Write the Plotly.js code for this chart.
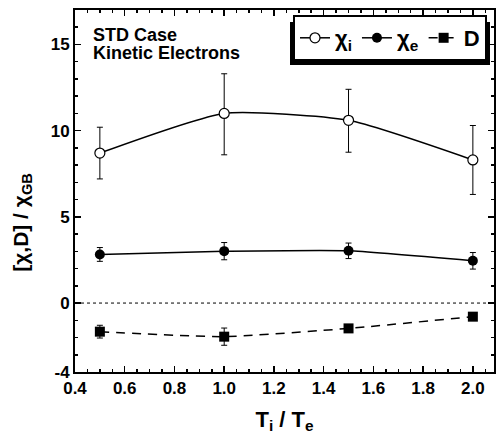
<!DOCTYPE html>
<html>
<head>
<meta charset="utf-8">
<script src="https://cdn.plot.ly/plotly-3.0.1.min.js"></script>
<style>html,body{margin:0;padding:0;background:#fff;}#chart{width:496px;height:447px;}</style>
</head>
<body>
<div id="chart"></div>
<script>
const tiTe = [0.5, 1.0, 1.5, 2.0];
const chiI = [8.7, 11.0, 10.6, 8.3];
const chiIErrPlus = [1.5, 2.3, 1.8, 2.0];
const chiIErrMinus = [1.5, 2.4, 1.85, 2.0];
const chiE = [2.82, 3.01, 3.03, 2.45];
const chiEErr = [0.4, 0.5, 0.45, 0.48];
const dVals = [-1.66, -1.95, -1.47, -0.79];
const dErr = [0.37, 0.5, 0, 0];
const xTickVals = [0.4, 0.6, 0.8, 1.0, 1.2, 1.4, 1.6, 1.8, 2.0];
const xTickText = ["0.4", "0.6", "0.8", "1.0", "1.2", "1.4", "1.6", "1.8", "2.0"];
const yTickVals = [-4, 0, 5, 10, 15];
const yTickText = ["-4", "0", "5", "10", "15"];
const seriesNames = ["χ<sub>i</sub>", "χ<sub>e</sub>", "D"];

const FONT = "Liberation Sans, Arial, sans-serif";

const traces = [
  {
    x: tiTe, y: chiI, name: seriesNames[0], type: 'scatter', mode: 'lines+markers',
    line: {color: 'black', width: 1.5, shape: 'spline', smoothing: 0.55},
    marker: {symbol: 'circle', size: 10, color: 'white', line: {color: 'black', width: 1.2}},
    error_y: {type: 'data', symmetric: false, array: chiIErrPlus, arrayminus: chiIErrMinus, color: 'black', thickness: 1, width: 3}
  },
  {
    x: tiTe, y: chiE, name: seriesNames[1], type: 'scatter', mode: 'lines+markers',
    line: {color: 'black', width: 1.5, shape: 'spline', smoothing: 0.4},
    marker: {symbol: 'circle', size: 10, color: 'black'},
    error_y: {type: 'data', array: chiEErr, color: 'black', thickness: 1, width: 3}
  },
  {
    x: tiTe, y: dVals, name: seriesNames[2], type: 'scatter', mode: 'lines+markers',
    line: {color: 'black', width: 1.5, dash: '9px,7px', shape: 'spline', smoothing: 0.5},
    marker: {symbol: 'square', size: 10, color: 'black'},
    error_y: {type: 'data', array: dErr, color: 'black', thickness: 1, width: 3}
  }
];

const px = v => (v - 75) / 419;
const py = v => (372 - v) / 362;

const layout = {
  width: 496, height: 447,
  margin: {l: 75, r: 2, t: 10, b: 75},
  paper_bgcolor: 'white', plot_bgcolor: 'white',
  font: {family: FONT, color: 'black', size: 17, weight: 'bold'},
  showlegend: true,
  legend: {
    orientation: 'h', x: px(487), xanchor: 'right', y: py(15), yanchor: 'top',
    bgcolor: 'white', bordercolor: 'black', borderwidth: 2,
    font: {family: FONT, size: 22, weight: 'bold', color: 'black'},
    itemwidth: 30
  },
  xaxis: {
    range: [0.4, 2.085], tickmode: 'array', tickvals: xTickVals, ticktext: xTickText,
    ticks: 'inside', ticklen: 6, tickwidth: 1.5, tickcolor: 'black',
    showline: true, linewidth: 2, linecolor: 'black', mirror: 'ticks',
    showgrid: false, zeroline: false,
    tickfont: {family: FONT, size: 17, weight: 'bold'},
    minor: {dtick: 0.05, tick0: 0.4, ticks: 'inside', ticklen: 3, tickwidth: 1.5, tickcolor: 'black', showgrid: false},
    title: {text: 'T<sub>i</sub> / T<sub>e</sub>', font: {family: FONT, size: 22, weight: 'bold'}, standoff: 14}
  },
  yaxis: {
    range: [-4, 17], tickmode: 'array', tickvals: yTickVals, ticktext: yTickText,
    ticks: 'inside', ticklen: 6, tickwidth: 1.5, tickcolor: 'black',
    showline: true, linewidth: 2, linecolor: 'black', mirror: 'ticks',
    showgrid: false, zeroline: false,
    tickfont: {family: FONT, size: 17, weight: 'bold'},
    minor: {dtick: 1, tick0: 0, ticks: 'inside', ticklen: 3, tickwidth: 1.5, tickcolor: 'black', showgrid: false}
  },
  shapes: [
    {type: 'line', xref: 'paper', x0: 0, x1: 1, yref: 'y', y0: 0, y1: 0, line: {color: 'black', width: 1, dash: '3px,3px'}},
    {type: 'rect', xref: 'paper', yref: 'paper', x0: px(290), x1: px(490), y0: py(65), y1: py(22), fillcolor: 'black', line: {width: 0}, layer: 'above'}
  ],
  annotations: [
    {text: 'STD Case', xref: 'paper', yref: 'paper', x: px(91), y: py(35), xanchor: 'left', yanchor: 'middle', showarrow: false, font: {family: FONT, size: 18, weight: 'bold'}},
    {text: 'Kinetic Electrons', xref: 'paper', yref: 'paper', x: px(91), y: py(53), xanchor: 'left', yanchor: 'middle', showarrow: false, font: {family: FONT, size: 18, weight: 'bold'}},
    {text: '[χ,D] / χ<sub>GB</sub>', xref: 'paper', yref: 'paper', x: -0.127, y: py(222), xanchor: 'center', yanchor: 'middle', textangle: -90, showarrow: false, font: {family: FONT, size: 21, weight: 'bold'}}
  ]
};

Plotly.newPlot('chart', traces, layout, {displayModeBar: false, staticPlot: true});
</script>
</body>
</html>
